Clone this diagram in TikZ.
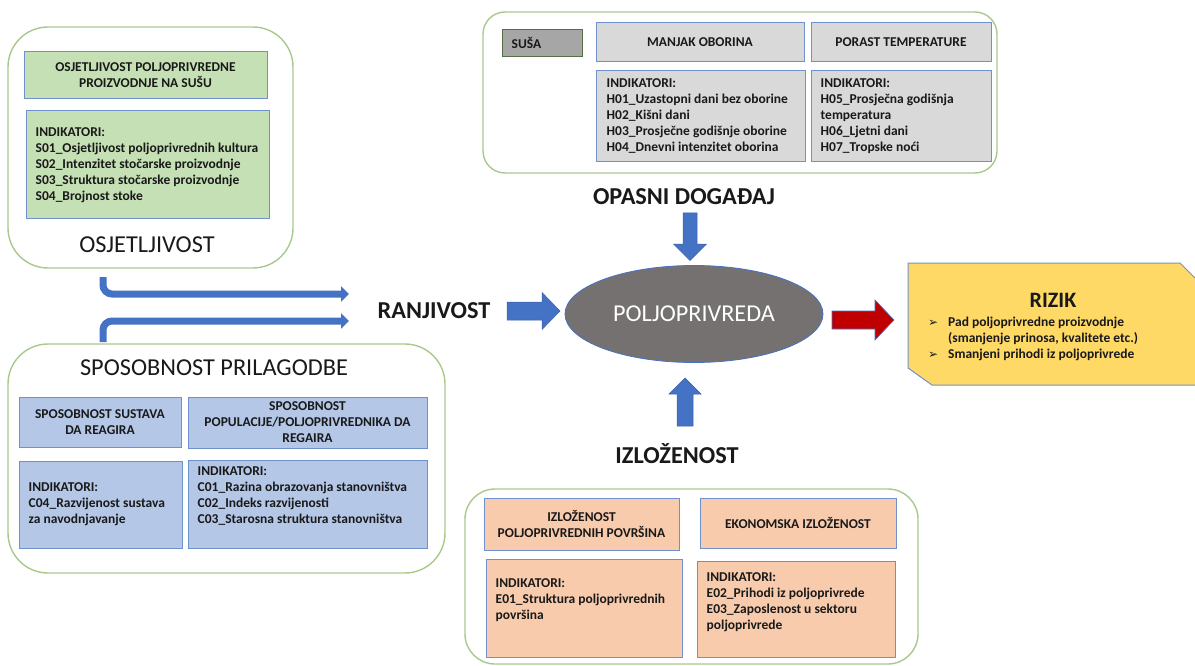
\documentclass[tikz,border=0pt]{standalone}
\usepackage{fontspec}
\setmainfont{Carlito}
\newfontfamily\dejavu{DejaVu Sans}
\usetikzlibrary{shapes.geometric,arrows.meta}
\definecolor{outergreen}{RGB}{169,200,140}
\definecolor{boxborder}{RGB}{112,146,204}
\definecolor{greenfill}{RGB}{197,224,180}
\definecolor{greyfill}{RGB}{217,217,217}
\definecolor{susafill}{RGB}{166,166,166}
\definecolor{susaborder}{RGB}{84,110,72}
\definecolor{bluefill}{RGB}{180,199,231}
\definecolor{peachfill}{RGB}{248,203,173}
\definecolor{rizikfill}{RGB}{255,217,102}
\definecolor{arrowblue}{RGB}{68,114,196}
\definecolor{arrowred}{RGB}{192,0,0}
\definecolor{ellgrey}{RGB}{118,113,113}
\definecolor{txt}{RGB}{25,25,25}
\tikzset{
  outerbox/.style={draw=outergreen, line width=1.4pt, rounded corners=#1, inner sep=0pt},
  innerbox/.style={draw=boxborder, line width=1pt, inner sep=0pt},
  boxtext/.style={text=txt, font=\bfseries\fontsize{13.5}{16}\selectfont, align=center},
  indtext/.style={text=txt, font=\bfseries\fontsize{13.5}{16}\selectfont, align=left, inner sep=0pt, anchor=west},
  biglabel/.style={text=txt, font=\fontsize{24.3}{28}\selectfont, inner sep=0pt},
  bigbold/.style={text=txt, font=\bfseries\fontsize{24.3}{28}\selectfont, inner sep=0pt},
  fatblue/.style={fill=arrowblue, draw=arrowblue!85!black, line width=0.5pt},
  fatred/.style={fill=arrowred, draw=arrowblue, line width=0.6pt},
  bentarrow/.style={draw=arrowblue, line width=7pt, rounded corners=9pt, -{Triangle[length=8pt,width=15pt]}},
}
\begin{document}
\begin{tikzpicture}[x=1pt,y=-1pt]
\useasboundingbox (0,0) rectangle (1195,666);

% ---------- OSJETLJIVOST ----------
\node[outerbox=40pt, minimum width=285pt, minimum height=241pt] (osjOuter) at (150.5,147.5) {};
\node[innerbox, fill=greenfill, minimum width=243pt, minimum height=47pt, boxtext] (osjTitle) at (145.5,75.5)
  {OSJETLJIVOST POLJOPRIVREDNE\\PROIZVODNJE NA SUŠU};
\node[innerbox, fill=greenfill, minimum width=243pt, minimum height=108pt] (osjInd) at (147.5,165) {};
\node[indtext, xshift=10pt] (osjIndText) at (osjInd.west)
  {INDIKATORI:\\S01\_Osjetljivost poljoprivrednih kultura\\S02\_Intenzitet stočarske proizvodnje\\S03\_Struktura stočarske proizvodnje\\S04\_Brojnost stoke};
\node[biglabel] (osjLabel) at (147,245) {OSJETLJIVOST};

% ---------- OPASNI DOGAĐAJ ----------
\node[outerbox=22pt, minimum width=514pt, minimum height=161pt] (opOuter) at (740,92.5) {};
\node[draw=susaborder, line width=1pt, fill=susafill, minimum width=80pt, minimum height=27pt, inner sep=0pt] (susa) at (542,43.5) {};
\node[indtext, xshift=10pt] (susaText) at (susa.west) {SUŠA};
\node[innerbox, fill=greyfill, minimum width=208pt, minimum height=39pt, boxtext] (manjak) at (700,42.5) {MANJAK OBORINA};
\node[innerbox, fill=greyfill, minimum width=180pt, minimum height=39pt, boxtext] (porast) at (901,42.5) {PORAST TEMPERATURE};
\node[innerbox, fill=greyfill, minimum width=209pt, minimum height=91pt] (manjakInd) at (700.5,116.5) {};
\node[indtext, xshift=11pt] (manjakIndText) at (manjakInd.west)
  {INDIKATORI:\\H01\_Uzastopni dani bez oborine\\H02\_Kišni dani\\H03\_Prosječne godišnje oborine\\H04\_Dnevni intenzitet oborina};
\node[innerbox, fill=greyfill, minimum width=180pt, minimum height=91pt] (porastInd) at (901,116.5) {};
\node[indtext, xshift=10pt] (porastIndText) at (porastInd.west)
  {INDIKATORI:\\H05\_Prosječna godišnja\\temperatura\\H06\_Ljetni dani\\H07\_Tropske noći};
\node[bigbold] (opLabel) at (684,197) {OPASNI DOGAĐAJ};

% ---------- SPOSOBNOST PRILAGODBE ----------
\node[outerbox=40pt, minimum width=437pt, minimum height=229pt] (spOuter) at (226.5,458.5) {};
\node[biglabel] (spLabel) at (214,368) {SPOSOBNOST PRILAGODBE};
\node[innerbox, fill=bluefill, minimum width=162pt, minimum height=50pt, boxtext] (spT1) at (100,422)
  {SPOSOBNOST SUSTAVA\\DA REAGIRA};
\node[innerbox, fill=bluefill, minimum width=239pt, minimum height=51pt, boxtext] (spT2) at (307.5,422.5)
  {SPOSOBNOST\\POPULACIJE/POLJOPRIVREDNIKA DA\\REGAIRA};
\node[innerbox, fill=bluefill, minimum width=163pt, minimum height=87pt] (spI1) at (100.5,504.5) {};
\node[indtext, xshift=10pt] (spI1Text) at (spI1.west)
  {INDIKATORI:\\C04\_Razvijenost sustava\\za navodnjavanje};
\node[innerbox, fill=bluefill, minimum width=239pt, minimum height=88pt] (spI2) at (307.5,504) {};
\node[indtext, xshift=10pt, yshift=8pt] (spI2Text) at (spI2.west)
  {INDIKATORI:\\C01\_Razina obrazovanja stanovništva\\C02\_Indeks razvijenosti\\C03\_Starosna struktura stanovništva};

% ---------- IZLOŽENOST ----------
\node[outerbox=30pt, minimum width=453pt, minimum height=175pt] (izOuter) at (691.5,576.5) {};
\node[innerbox, fill=peachfill, minimum width=195pt, minimum height=52pt, boxtext] (izT1) at (581.5,524)
  {IZLOŽENOST\\POLJOPRIVREDNIH POVRŠINA};
\node[innerbox, fill=peachfill, minimum width=196pt, minimum height=50pt, boxtext] (izT2) at (798,523)
  {EKONOMSKA IZLOŽENOST};
\node[innerbox, fill=peachfill, minimum width=196pt, minimum height=98pt] (izI1) at (584,608) {};
\node[indtext, xshift=10pt, yshift=8pt] (izI1Text) at (izI1.west)
  {INDIKATORI:\\E01\_Struktura poljoprivrednih\\površina};
\node[innerbox, fill=peachfill, minimum width=198pt, minimum height=96pt] (izI2) at (796,609) {};
\node[indtext, xshift=10pt, yshift=7pt] (izI2Text) at (izI2.west)
  {INDIKATORI:\\E02\_Prihodi iz poljoprivrede\\E03\_Zaposlenost u sektoru\\poljoprivrede};
\node[bigbold] (izLabel) at (677,454) {IZLOŽENOST};

% ---------- CENTRE ----------
\node[ellipse, fill=ellgrey, draw=arrowblue, line width=0.8pt, minimum width=258pt, minimum height=97pt,
      inner sep=0pt, text=white, font=\fontsize{24.2}{28}\selectfont] (polj) at (694,314) {POLJOPRIVREDA};
\node[bigbold] (ranjLabel) at (434,311) {RANJIVOST};

% block arrows
\draw[fatblue] (507,302) -- (542,302) -- (542,292.5) -- (560,311) -- (542,329.5) -- (542,320) -- (507,320) -- cycle;
\draw[fatblue] (683,213) -- (683,244) -- (673.5,244) -- (690,260.5) -- (706.5,244) -- (697,244) -- (697,213) -- cycle;
\draw[fatblue] (677,426) -- (677,394) -- (669,394) -- (685,378) -- (701,394) -- (693,394) -- (693,426) -- cycle;
\draw[fatred] (832,311) -- (875,311) -- (875,300) -- (894,320) -- (875,340) -- (875,329) -- (832,329) -- cycle;

% bent arrows
\coordinate (b1s) at (103,277);
\coordinate (b1e) at (349,294);
\coordinate (b2s) at (103,342);
\coordinate (b2e) at (349,321);
\draw[bentarrow] (b1s) |- (b1e);
\draw[bentarrow] (b2s) |- (b2e);

% ---------- RIZIK ----------
\draw[draw=boxborder, line width=1pt, fill=rizikfill] (908,263) -- (1180,263) -- (1196,279) -- (1196,385) -- (932,385) -- (908,368) -- cycle;
\node[text=txt, font=\bfseries\fontsize{22}{26}\selectfont, inner sep=0pt] (rizik) at (1053,300) {RIZIK};
\node[text=txt, anchor=north west, align=left, inner sep=0pt, font=\bfseries\fontsize{13.5}{16}\selectfont] (rizikText) at (928,317)
  {\makebox[20pt][l]{\dejavu\fontsize{12}{16}\selectfont ➢}Pad poljoprivredne proizvodnje\\
   \hspace*{20pt}(smanjenje prinosa, kvalitete etc.)\\
   \makebox[20pt][l]{\dejavu\fontsize{12}{16}\selectfont ➢}Smanjeni prihodi iz poljoprivrede};
\end{tikzpicture}
\end{document}
